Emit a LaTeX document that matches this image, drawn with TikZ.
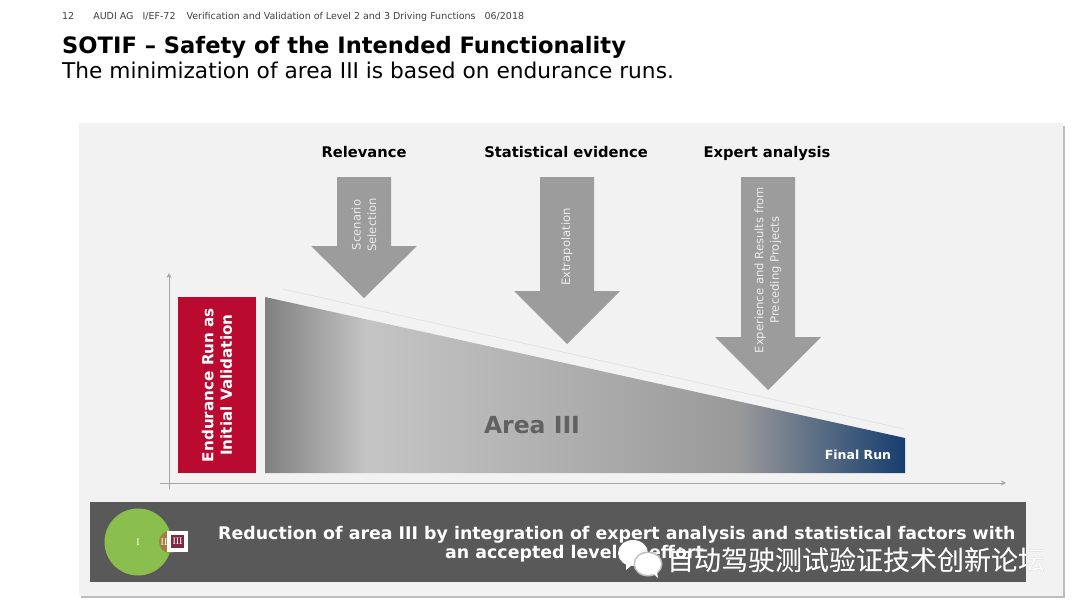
\documentclass[tikz,border=0pt]{standalone}
\usepackage{fontspec}
\setmainfont{DejaVu Sans}
\newfontfamily\cjkfont{Noto Sans CJK SC}
\newfontfamily\romanfont{Liberation Serif}
\usetikzlibrary{positioning, arrows.meta}
\definecolor{panelgray}{HTML}{F2F2F2}
\definecolor{shadowgray}{HTML}{BDBDBD}
\definecolor{arrowgray}{HTML}{9C9C9C}
\definecolor{axisgray}{HTML}{A6A6A6}
\definecolor{bandgray}{HTML}{595959}
\definecolor{audired}{HTML}{BB0A30}
\definecolor{circlegreen}{HTML}{8BBF4D}
\definecolor{circlebrown}{HTML}{A27C42}
\definecolor{darkred}{HTML}{7B2A42}
\definecolor{areablue}{HTML}{163E6E}
\pgfdeclarehorizontalshading{areashade}{100bp}{
    color(0bp)=(black!50);
    color(25bp)=(black!50);
    color(33bp)=(black!23);
    color(51bp)=(black!33);
    color(62bp)=(black!40);
    color(75bp)=(areablue);
    color(100bp)=(areablue)
}
\tikzstyle{heading} = [
    anchor=base,
    font=\fontsize{14.7}{17}\selectfont\bfseries,
    text=black,
    inner sep=0pt
]
\tikzstyle{arrowlabel} = [
    rotate=90,
    align=center,
    inner sep=0pt,
    text=white!92!black,
    font=\fontsize{11.6}{15.5}\selectfont
]
\tikzstyle{redbox} = [
    rectangle,
    rotate=90,
    minimum width=176pt,
    minimum height=78pt,
    inner sep=0pt,
    align=center,
    fill=audired,
    text=white,
    font=\fontsize{15.2}{18.5}\selectfont\bfseries
]
\tikzstyle{axis} = [axisgray, line width=1pt, -{Stealth[length=5pt,width=5pt]}]
\tikzstyle{blockarrow} = [fill=arrowgray]
\tikzstyle{numeral} = [text=white, inner sep=0pt, font=\romanfont\fontsize{10}{12}\selectfont]
\tikzstyle{bandtext} = [anchor=base west, inner sep=0pt, text=white, font=\fontsize{17.4}{19}\selectfont\bfseries]
\tikzstyle{watermark} = [inner sep=0pt, anchor=west, font=\cjkfont\fontsize{27}{30}\selectfont]

\begin{document}
\begin{tikzpicture}[x=1pt,y=-1pt]
\useasboundingbox [fill=white] (0,0) rectangle (1080,608);

% Header
\node (pageline) [anchor=west, inner sep=0pt, text=black!75, font=\fontsize{9.5}{11}\selectfont] at (62,17) {12\hspace{19pt}AUDI AG\hspace{9pt}I/EF-72\hspace{11pt}Verification and Validation of Level 2 and 3 Driving Functions\hspace{9pt}06/2018};
\node (title) [anchor=west, inner sep=0pt, font=\fontsize{22.6}{26}\selectfont\bfseries] at (62,47) {SOTIF – Safety of the Intended Functionality};
\node (subtitle) [anchor=west, inner sep=0pt, font=\fontsize{21.7}{25}\selectfont] at (62,70) {The minimization of area III is based on endurance runs.};

% Panel
\fill [shadowgray] (81,126) rectangle (1065,598);
\fill [panelgray] (79,123) rectangle (1063,596);

% Headings
\node (relevance) [heading] at (364,157) {Relevance};
\node (statistical) [heading] at (566,157) {Statistical evidence};
\node (expert) [heading] at (767,157) {Expert analysis};

% Block arrows
\fill [blockarrow] (337,177) -- (391,177) -- (391,246) -- (417,246) -- (364,298) -- (311,246) -- (337,246) -- cycle;
\fill [blockarrow] (540,177) -- (594,177) -- (594,291) -- (620,291) -- (567,344) -- (514,291) -- (540,291) -- cycle;
\fill [blockarrow] (741,177) -- (795,177) -- (795,337) -- (821,337) -- (768,390) -- (715,337) -- (741,337) -- cycle;
\node (scenario) [arrowlabel] at (364,225) {Scenario\\Selection};
\node (extrapolation) [arrowlabel] at (567,247) {Extrapolation};
\node (experience) [arrowlabel] at (768,270) {Experience and Results from\\Preceding Projects};

% Axes
\coordinate (ybottom) at (169,489);
\coordinate (ytop) at (169,273);
\coordinate (xleft) at (160,483);
\coordinate (xright) at (1006,483);
\draw [axis] (ybottom) -- (ytop);
\draw [axis] (xleft) -- (xright);

% Area
\node (initial) [redbox] at (217,385) {Endurance Run as\\Initial Validation};
\shade [shading=areashade] (265,297) -- (905,438) -- (905,473) -- (265,473) -- cycle;
\coordinate (linestart) at (283,289);
\coordinate (lineend) at (904,429);
\draw [black!14, line width=0.5pt] (linestart) -- (lineend);
\node (areathree) [inner sep=0pt, text=black!62, font=\fontsize{23.5}{27}\selectfont\bfseries] at (532,425) {Area III};
\node (finalrun) [inner sep=0pt, text=white, font=\fontsize{12.5}{15}\selectfont\bfseries] at (858,455) {Final Run};

% Band
\fill [bandgray] (90,502) rectangle (1026,582);
\node (circleone) [circle, fill=circlegreen, minimum size=67pt, inner sep=0pt] at (138,542) {};
\node (circletwo) [circle, fill=circlebrown, minimum size=22pt, inner sep=0pt] at (170,542) {};
\node (labelone) [numeral] at (138,542) {I};
\node (labeltwo) [numeral] at (164,542) {II};
\node (boxthree) [rectangle, fill=darkred, draw=white, line width=4pt, minimum size=17pt, inner sep=0pt] at (177.5,541.5) {};
\node (labelthree) [numeral] at (177.5,541.5) {III};
\node (reductionone) [bandtext] at (218,539) {Reduction of area III by integration of expert analysis and statistical factors with};
\node (reductiontwo) [bandtext] at (445,558) {an accepted level of effort};

% Watermark
\fill [white] (633,553) ellipse [x radius=15pt, y radius=13pt];
\fill [white] (626,562) -- (632,565) -- (626,570) -- cycle;
\fill [black!25] (648,564) ellipse [x radius=14.5pt, y radius=12.5pt];
\fill [white] (648,564) ellipse [x radius=13pt, y radius=11pt];
\fill [white] (652,572) -- (657,572) -- (658,578) -- cycle;
\node (watermarkshadow) [watermark, text=black!35] at (667.6,560.6) {自动驾驶测试验证技术创新论坛};
\node (watermarktext) [watermark, text=white] at (667,560) {自动驾驶测试验证技术创新论坛};

\end{tikzpicture}
\end{document}
